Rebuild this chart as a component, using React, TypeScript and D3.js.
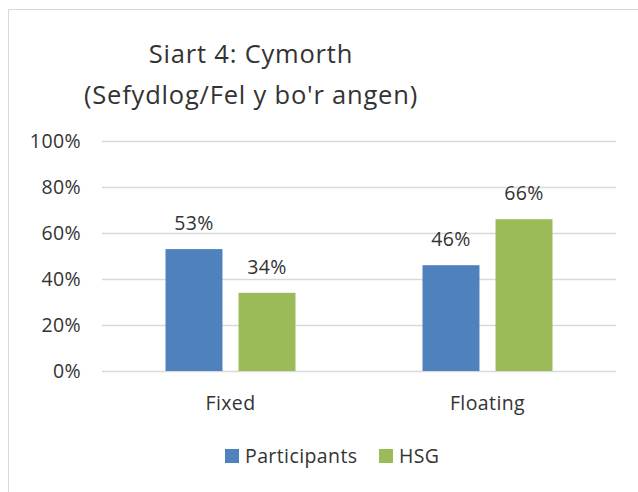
import React, { useEffect, useRef } from 'react';
import * as d3 from 'd3';

// chart data
const categories = ['Fixed', 'Floating'];
const seriesNames = ['Participants', 'HSG'];
const participants = [0.53, 0.46];
const hsg = [0.34, 0.66];
const yTicks = [0, 0.2, 0.4, 0.6, 0.8, 1];
const titleLines = ['Siart 4: Cymorth', "(Sefydlog/Fel y bo'r angen)"];

const colors = ['#4f81bd', '#9bbb59'];
const FONT = '"Open Sans", sans-serif';
const TEXT = '#333';

// shared look for the small labels
const smallText = (sel) =>
  sel
    .attr('fill', TEXT)
    .style('font-family', FONT)
    .style('font-size', '19.5px')
    .style('letter-spacing', '0.4px');

const App = () => {
  const svgRef = useRef<SVGSVGElement>(null);

  useEffect(() => {
    const svg = d3.select(svgRef.current);
    svg.selectAll('*').remove();

    // chart frame (only top/left edges are inside the picture)
    svg
      .append('rect')
      .attr('x', 8.5)
      .attr('y', 9.5)
      .attr('width', 700)
      .attr('height', 600)
      .attr('fill', 'white')
      .attr('stroke', '#d9d9d9')
      .attr('stroke-width', 1);

    // title
    const title = svg
      .append('text')
      .attr('text-anchor', 'middle')
      .attr('fill', TEXT)
      .style('font-family', FONT)
      .style('font-size', '25.5px')
      .style('letter-spacing', '0.8px');
    titleLines.forEach((line, i) => {
      title
        .append('tspan')
        .attr('x', 251)
        .attr('y', 63 + i * 41)
        .text(line);
    });

    const x0 = d3.scaleBand().domain(categories).range([102, 616]).padding(0);
    const x1 = d3.scaleBand().domain(seriesNames).range([-65, 65]).paddingInner(0.22).paddingOuter(0);
    const y = d3.scaleLinear().domain([0, 1]).range([371, 141]);

    // gridlines
    svg
      .append('g')
      .selectAll('line')
      .data(yTicks)
      .enter()
      .append('line')
      .attr('x1', 102)
      .attr('x2', 616)
      .attr('y1', (d) => Math.round(y(d)) + 0.5)
      .attr('y2', (d) => Math.round(y(d)) + 0.5)
      .attr('stroke', '#d9d9d9')
      .attr('stroke-width', 1.3);

    // y axis labels
    const yAxis = svg
      .append('g')
      .attr('transform', 'translate(91,0)')
      .call(d3.axisLeft(y).tickValues(yTicks).tickFormat(d3.format('.0%')).tickSize(0).tickPadding(10));
    yAxis.select('.domain').remove();
    yAxis.selectAll('.tick text').call(smallText);

    const rows = categories.map((c, i) => ({ cat: c, values: [participants[i], hsg[i]] }));

    const groups = svg
      .append('g')
      .selectAll('g')
      .data(rows)
      .enter()
      .append('g')
      .attr('transform', (d) => `translate(${x0(d.cat)! + x0.bandwidth() / 2},0)`);

    groups
      .selectAll('rect')
      .data((d) => d.values.map((v, i) => ({ name: seriesNames[i], v, i })))
      .enter()
      .append('rect')
      .attr('x', (d) => x1(d.name)!)
      .attr('y', (d) => y(d.v))
      .attr('width', x1.bandwidth())
      .attr('height', (d) => y(0) - y(d.v))
      .attr('fill', (d) => colors[d.i]);

    groups
      .selectAll('text')
      .data((d) => d.values.map((v, i) => ({ name: seriesNames[i], v, i })))
      .enter()
      .append('text')
      .attr('x', (d) => x1(d.name)! + x1.bandwidth() / 2)
      .attr('y', (d) => y(d.v) - 19)
      .attr('text-anchor', 'middle')
      .call(smallText)
      .text((d) => d3.format('.0%')(d.v));

    // category labels
    svg
      .append('g')
      .selectAll('text')
      .data(categories)
      .enter()
      .append('text')
      .attr('x', (d) => x0(d)! + x0.bandwidth() / 2)
      .attr('y', 410)
      .attr('text-anchor', 'middle')
      .call(smallText)
      .text((d) => d);

    // legend
    const legendX = [225, 379];
    const legend = svg
      .append('g')
      .selectAll('g')
      .data(seriesNames)
      .enter()
      .append('g')
      .attr('transform', (d, i) => `translate(${legendX[i]},449)`);
    legend
      .append('rect')
      .attr('width', 14)
      .attr('height', 14)
      .attr('fill', (d, i) => colors[i]);
    legend
      .append('text')
      .attr('x', 20)
      .attr('y', 14)
      .call(smallText)
      .text((d) => d);
  }, []);

  return (
    <svg
      ref={svgRef}
      width={638}
      height={492}
      style={{ position: 'absolute', left: 0, top: 0, display: 'block' }}
    />
  );
};

export default App;
